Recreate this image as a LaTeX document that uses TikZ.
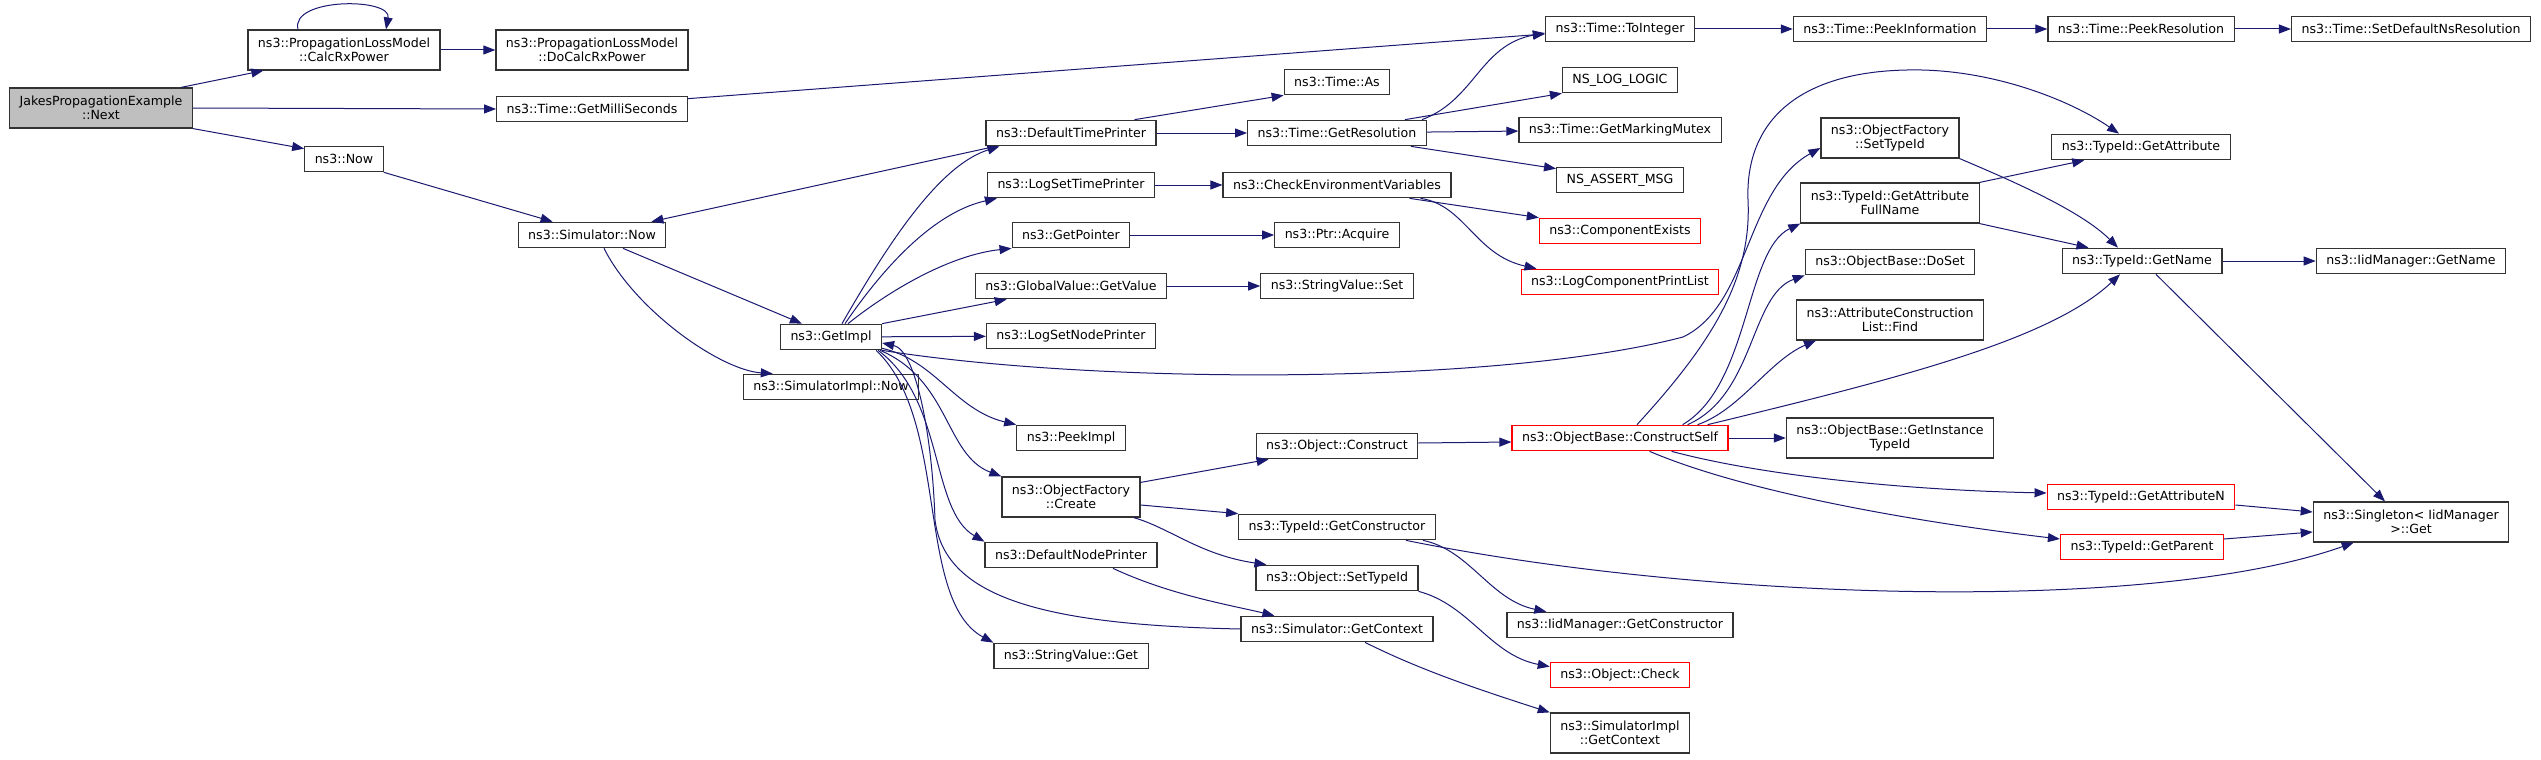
\documentclass[tikz,border=0pt]{standalone}
\usepackage{fontspec}
\setmainfont{DejaVu Sans}
\usetikzlibrary{arrows.meta,positioning,calc}
\definecolor{edgeblue}{HTML}{191970}

\begin{document}
\begin{tikzpicture}[
  x=1pt, y=-1pt,
  >={Triangle[length=12pt,width=9pt]},
  fn/.style={
    rectangle, draw=black!80, line width=1.2pt, fill=white,
    font=\fontsize{12.6}{14.5}\selectfont, inner xsep=10pt, inner ysep=2pt,
    minimum height=25.5pt, align=center
  },
  fn2/.style={fn, minimum height=40pt},
  trunc/.style={fn, draw=red},
  root/.style={fn2, fill=black!25},
  call/.style={->, draw=edgeblue, line width=1pt}
]
\useasboundingbox (0,0) rectangle (2541,760);

% -- Coluna 1 e 2 --
\node[root] (jakes)      at ( 101, 108) {JakesPropagationExample\\::Next};
\node[fn2]  (calcrx)     at ( 344,  50) {ns3::PropagationLossModel\\::CalcRxPower};
\node[fn]   (now)        at ( 344, 159) {ns3::Now};

% -- Coluna 3 --
\node[fn2]  (docalcrx)   at ( 592,  50) {ns3::PropagationLossModel\\::DoCalcRxPower};
\node[fn]   (getms)      at ( 592, 109) {ns3::Time::GetMilliSeconds};
\node[fn]   (simnow)     at ( 592, 235) {ns3::Simulator::Now};

% -- Coluna 4 --
\node[fn]   (getimpl)    at ( 831, 337) {ns3::GetImpl};
\node[fn]   (simimplnow) at ( 831, 387) {ns3::SimulatorImpl::Now};

% -- Coluna 5 --
\node[fn]   (deftimepr)  at (1071, 133) {ns3::DefaultTimePrinter};
\node[fn]   (logsettime) at (1071, 185) {ns3::LogSetTimePrinter};
\node[fn]   (getptr)     at (1071, 235) {ns3::GetPointer};
\node[fn]   (gvget)      at (1071, 286) {ns3::GlobalValue::GetValue};
\node[fn]   (logsetnode) at (1071, 336) {ns3::LogSetNodePrinter};
\node[fn]   (peekimpl)   at (1071, 438) {ns3::PeekImpl};
\node[fn2]  (ofcreate)   at (1071, 497) {ns3::ObjectFactory\\::Create};
\node[fn]   (defnodepr)  at (1071, 555) {ns3::DefaultNodePrinter};
\node[fn]   (svget)      at (1071, 656) {ns3::StringValue::Get};

% -- Coluna 6 --
\node[fn]   (timeas)     at (1337,  82) {ns3::Time::As};
\node[fn]   (getres)     at (1337, 133) {ns3::Time::GetResolution};
\node[fn]   (checkenv)   at (1337, 185) {ns3::CheckEnvironmentVariables};
\node[fn]   (ptracq)     at (1337, 235) {ns3::Ptr::Acquire};
\node[fn]   (svset)      at (1337, 286) {ns3::StringValue::Set};
\node[fn]   (objconstr)  at (1337, 446) {ns3::Object::Construct};
\node[fn]   (getctor)    at (1337, 527) {ns3::TypeId::GetConstructor};
\node[fn]   (objsettid)  at (1337, 578) {ns3::Object::SetTypeId};
\node[fn]   (simgetctx)  at (1337, 629) {ns3::Simulator::GetContext};

% -- Coluna 7 --
\node[fn]    (toint)       at (1620,  29) {ns3::Time::ToInteger};
\node[fn]    (nslog)       at (1620,  80) {NS\_LOG\_LOGIC};
\node[fn]    (getmutex)    at (1620, 130) {ns3::Time::GetMarkingMutex};
\node[fn]    (nsassert)    at (1620, 180) {NS\_ASSERT\_MSG};
\node[trunc] (compexists)  at (1620, 231) {ns3::ComponentExists};
\node[trunc] (logcomplist) at (1620, 282) {ns3::LogComponentPrintList};
\node[trunc] (constself)   at (1620, 438) {ns3::ObjectBase::ConstructSelf};
\node[fn]    (iidgetctor)  at (1620, 625) {ns3::IidManager::GetConstructor};
\node[trunc] (objcheck)    at (1620, 675) {ns3::Object::Check};
\node[fn2]   (simimplctx)  at (1620, 733) {ns3::SimulatorImpl\\::GetContext};

% -- Coluna 8 --
\node[fn]   (peekinfo)   at (1890,  29) {ns3::Time::PeekInformation};
\node[fn2]  (ofsettid)   at (1890, 138) {ns3::ObjectFactory\\::SetTypeId};
\node[fn2]  (getattrfn)  at (1890, 203) {ns3::TypeId::GetAttribute\\FullName};
\node[fn]   (doset)      at (1890, 262) {ns3::ObjectBase::DoSet};
\node[fn2]  (aclfind)    at (1890, 320) {ns3::AttributeConstruction\\List::Find};
\node[fn2]  (getinst)    at (1890, 438) {ns3::ObjectBase::GetInstance\\TypeId};

% -- Colunas 9 e 10 --
\node[fn]    (peekres)    at (2141,  29) {ns3::Time::PeekResolution};
\node[fn]    (getattr)    at (2141, 147) {ns3::TypeId::GetAttribute};
\node[fn]    (getname)    at (2142, 261) {ns3::TypeId::GetName};
\node[trunc] (getattrn)   at (2141, 497) {ns3::TypeId::GetAttributeN};
\node[trunc] (getparent)  at (2142, 547) {ns3::TypeId::GetParent};
\node[fn]    (setdefres)  at (2411,  29) {ns3::Time::SetDefaultNsResolution};
\node[fn]    (iidgetname) at (2411, 261) {ns3::IidManager::GetName};
\node[fn2]   (singleton)  at (2411, 522) {ns3::Singleton< IidManager\\ >::Get};

% -- Chamadas a partir da raiz --
\draw[call] ([xshift=-12pt]jakes.north east) -- ([xshift=16pt]calcrx.south west);
\draw[call] ([xshift=-46pt]calcrx.north) .. controls +(-8,-32) and +(6,-32) .. ([xshift=42pt]calcrx.north);
\draw[call] (calcrx) -- (docalcrx);
\draw[call] (jakes.east) -- (getms.west);
\draw[call] (jakes.south east) -- ([yshift=-3pt]now.north west);
\draw[call] ([yshift=-3pt]getms.north east) -- ([yshift=-5pt]toint.west);
\draw[call] (now.south east) -- ([xshift=35pt]simnow.north west);
\draw[call] ([xshift=10pt]deftimepr.south west) -- ([xshift=-15pt]simnow.north east);
\draw[call] ([xshift=31pt]simnow.south) -- ([xshift=22pt]getimpl.north west);
\draw[call] ([xshift=12pt]simnow.south) .. controls (635,310) and (720,370) .. ([xshift=30pt]simimplnow.north west);

% -- Chamadas de GetImpl --
\draw[call] ([xshift=11pt]getimpl.north) .. controls (890,240) and (940,165) .. ([xshift=14pt]deftimepr.south west);
\draw[call] ([xshift=14pt]getimpl.north) .. controls (885,265) and (935,212) .. ([xshift=10pt]logsettime.south west);
\draw[call] ([xshift=17pt]getimpl.north) .. controls (890,290) and (950,255) .. (getptr.south west);
\draw[call] (getimpl.north east) -- ([xshift=32pt]gvget.south west);
\draw[call] (getimpl) -- (logsetnode);
\draw[call] (getimpl.south east) .. controls (1100,385) and (1500,385) .. (1683,337)
  .. controls (1750,305) and (1745,190) .. ([yshift=-10pt]ofsettid.west);
\draw[call] ([yshift=2pt]getimpl.south east) .. controls (935,360) and (955,410) .. (peekimpl.north west);
\draw[call] ([xshift=-2pt]getimpl.south east) .. controls (950,380) and (945,455) .. (ofcreate.north west);
\draw[call] ([xshift=-4pt]getimpl.south east) .. controls (945,400) and (930,510) .. (defnodepr.north west);
\draw[call] ([xshift=-6pt]getimpl.south east) .. controls (950,420) and (915,600) .. (svget.north west);
\draw[call] (simgetctx.west) .. controls (1050,625) and (945,600) .. (935,520)
  .. controls (932,430) and (915,350) .. ([yshift=-6pt]getimpl.east);

% -- Chamadas da coluna 5 --
\draw[call] ([xshift=-22pt]deftimepr.north east) -- (timeas.south west);
\draw[call] (deftimepr) -- (getres);
\draw[call] (logsettime) -- (checkenv);
\draw[call] (getptr) -- (ptracq);
\draw[call] (gvget) -- (svset);
\draw[call] ([yshift=-6pt]ofcreate.north east) -- ([xshift=13pt]objconstr.south west);
\draw[call] ([yshift=-8pt]ofcreate.east) -- (getctor.north west);
\draw[call] ([xshift=-7pt]ofcreate.south east) .. controls (1170,528) and (1200,555) .. ([xshift=11pt]objsettid.north west);
\draw[call] ([xshift=42pt]defnodepr.south) .. controls (1170,595) and (1230,605) .. ([xshift=34pt]simgetctx.north west);

% -- Chamadas da coluna 6 --
\draw[call] ([xshift=-5pt]getres.north east) .. controls (1475,100) and (1480,45) .. ([yshift=-4pt]toint.west);
\draw[call] ([xshift=-22pt]getres.north east) -- (nslog.south west);
\draw[call] (getres) -- (getmutex);
\draw[call] ([xshift=-16pt]getres.south east) -- ([yshift=-2pt]nsassert.north west);
\draw[call] ([xshift=-42pt]checkenv.south east) -- (compexists.north west);
\draw[call] ([xshift=-31pt]checkenv.south east) .. controls (1465,205) and (1475,255) .. ([xshift=16pt]logcomplist.north west);
\draw[call] ([yshift=3pt]objconstr.east) -- ([yshift=-4pt]constself.west);
\draw[call] ([xshift=-13pt]getctor.south east) .. controls (1470,550) and (1490,600) .. ([xshift=40pt]iidgetctor.north west);
\draw[call] ([xshift=-30pt]getctor.south east) .. controls (1700,600) and (2150,615) .. ([xshift=41pt]singleton.south west);
\draw[call] (objsettid.south east) .. controls (1470,605) and (1490,655) .. ([yshift=-5pt]objcheck.north west);
\draw[call] ([xshift=28pt]simgetctx.south) .. controls (1420,670) and (1480,690) .. (simimplctx.north west);

% -- Chamadas de ConstructSelf --
\draw[call] (constself) -- (getinst);
\draw[call] ([xshift=17pt]constself.north) .. controls (1710,345) and (1752,280) .. (1748,200)
  .. controls (1745,120) and (1800,72) .. (1907,70)
  .. controls (1990,68) and (2070,100) .. ([xshift=-22pt]getattr.north);
\draw[call] ([xshift=-46pt]constself.north east) .. controls (1750,385) and (1745,250) .. (getattrfn.south west);
\draw[call] ([xshift=-41pt]constself.north east) .. controls (1755,395) and (1750,295) .. (doset.south west);
\draw[call] ([xshift=-31pt]constself.north east) .. controls (1740,410) and (1770,360) .. ([xshift=20pt]aclfind.south west);
\draw[call] ([xshift=-21pt]constself.north east) .. controls (1900,378) and (2050,340) .. ([xshift=-22pt]getname.south);
\draw[call] ([xshift=-57pt]constself.south east) .. controls (1760,475) and (1900,490) .. ([yshift=4pt]getattrn.west);
\draw[call] ([xshift=-79pt]constself.south east) .. controls (1740,490) and (1900,520) .. ([yshift=8pt]getparent.west);

% -- Chamadas das colunas 7 a 9 --
\draw[call] (toint) -- (peekinfo);
\draw[call] (peekinfo) -- (peekres);
\draw[call] (peekres) -- (setdefres);
\draw[call] (ofsettid.south east) .. controls (2010,180) and (2080,210) .. ([xshift=-24pt]getname.north);
\draw[call] (getattrfn.north east) -- ([xshift=33pt]getattr.south west);
\draw[call] (getattrfn.south east) -- ([xshift=27pt]getname.north west);
\draw[call] (getname) -- (iidgetname);
\draw[call] ([xshift=14pt]getname.south) -- ([xshift=-26pt]singleton.north);
\draw[call] ([yshift=-8pt]getattrn.east) -- ([yshift=10pt]singleton.west);
\draw[call] ([yshift=8pt]getparent.east) -- ([yshift=-10pt]singleton.west);

\end{tikzpicture}
\end{document}
